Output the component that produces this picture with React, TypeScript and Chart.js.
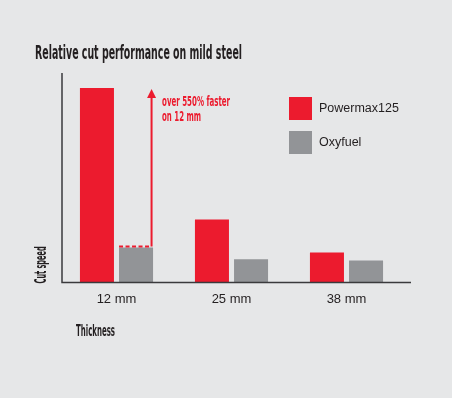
import React, { useEffect, useRef } from "react";
import { Chart, registerables } from "chart.js";

Chart.register(...registerables);

const categories = ["12 mm", "25 mm", "38 mm"];
const seriesNames = ["Powermax125", "Oxyfuel"];
const powermaxValues = [5.57, 1.8, 0.86];
const oxyfuelValues = [1.0, 0.66, 0.63];
const yMax = 6.0;
const chartTitle = "Relative cut performance on mild steel";
const xTitle = "Thickness";
const yTitle = "Cut speed";
const annotationLines = ["over 550% faster", "on 12 mm"];

const RED = "#ec1b2e";
const GRAY = "#929497";
const TEXT = "#231f20";
const BG = "#e6e7e8";
const CONDENSED = '"Liberation Sans Narrow", "DejaVu Sans Condensed", "Liberation Sans", sans-serif';
const SANS = '"Liberation Sans", Arial, sans-serif';

function drawFitted(
  ctx: CanvasRenderingContext2D,
  text: string,
  x: number,
  y: number,
  width: number,
  font: string,
  color: string
) {
  ctx.save();
  ctx.font = font;
  ctx.fillStyle = color;
  ctx.textBaseline = "alphabetic";
  ctx.textAlign = "left";
  const w = ctx.measureText(text).width;
  const s = width / w;
  ctx.translate(x, y);
  ctx.scale(s, 1);
  ctx.fillText(text, 0, 0);
  ctx.restore();
}

const decorPlugin = {
  id: "decor",
  afterDatasetsDraw(chart: any) {
    const ctx: CanvasRenderingContext2D = chart.ctx;
    const area = chart.chartArea;

    // axis lines
    ctx.save();
    ctx.strokeStyle = "#3a3a3c";
    ctx.lineWidth = 1.5;
    ctx.beginPath();
    ctx.moveTo(area.left + 3, area.top);
    ctx.lineTo(area.left + 3, area.bottom);
    ctx.lineTo(area.right + 7, area.bottom);
    ctx.stroke();
    ctx.restore();

    // annotation
    const red = chart.getDatasetMeta(0).data[0];
    const gray = chart.getDatasetMeta(1).data[0];
    if (red && gray) {
      const gw = gray.width;
      const lineX = gray.x + gw / 2 - 1.5;
      const topY = gray.y - 1;
      ctx.save();
      ctx.strokeStyle = RED;
      ctx.lineWidth = 2;
      ctx.setLineDash([4, 2.5]);
      ctx.beginPath();
      ctx.moveTo(gray.x - gw / 2, topY);
      ctx.lineTo(lineX, topY);
      ctx.stroke();
      ctx.setLineDash([]);
      ctx.beginPath();
      ctx.moveTo(lineX, topY);
      ctx.lineTo(lineX, red.y + 8);
      ctx.stroke();
      ctx.fillStyle = RED;
      ctx.beginPath();
      ctx.moveTo(lineX, red.y + 1);
      ctx.lineTo(lineX - 4.5, red.y + 10);
      ctx.lineTo(lineX + 4.5, red.y + 10);
      ctx.closePath();
      ctx.fill();
      ctx.restore();
      drawFitted(ctx, annotationLines[0], lineX + 10.5, red.y + 17.5, 68, "bold 14px " + CONDENSED, RED);
      drawFitted(ctx, annotationLines[1], lineX + 10.5, red.y + 32.5, 39, "bold 14px " + CONDENSED, RED);
    }

    // legend
    const colors = [RED, GRAY];
    ctx.save();
    seriesNames.forEach((name, i) => {
      const y = 97 + i * 34;
      ctx.fillStyle = colors[i];
      ctx.fillRect(289, y, 23, 23);
      ctx.fillStyle = TEXT;
      ctx.font = "12.5px " + SANS;
      ctx.textBaseline = "middle";
      ctx.textAlign = "left";
      ctx.fillText(name, 319, y + 12);
    });
    ctx.restore();

    // titles
    drawFitted(ctx, chartTitle, 35, 59, 207, "bold 20px " + CONDENSED, TEXT);
    drawFitted(ctx, xTitle, 76, 336, 39, "bold 16px " + CONDENSED, TEXT);
    ctx.save();
    ctx.translate(46, area.bottom + 1);
    ctx.rotate(-Math.PI / 2);
    drawFitted(ctx, yTitle, 0, 0, 37, "bold 15px " + CONDENSED, TEXT);
    ctx.restore();
  },
};

export default function App() {
  const ref = useRef<HTMLCanvasElement | null>(null);

  useEffect(() => {
    document.body.style.margin = "0";
    document.body.style.background = BG;
    if (!ref.current) return;
    const chart = new Chart(ref.current, {
      type: "bar",
      data: {
        labels: categories,
        datasets: [
          {
            label: seriesNames[0],
            data: powermaxValues,
            backgroundColor: RED,
            categoryPercentage: 0.68,
            barPercentage: 0.87,
          },
          {
            label: seriesNames[1],
            data: oxyfuelValues,
            backgroundColor: GRAY,
            categoryPercentage: 0.68,
            barPercentage: 0.87,
          },
        ],
      },
      options: {
        responsive: true,
        maintainAspectRatio: false,
        animation: false,
        events: [],
        layout: { padding: { left: 59, right: 48, top: 73, bottom: 82 } },
        plugins: {
          legend: { display: false },
          title: { display: false },
          tooltip: { enabled: false },
        },
        scales: {
          x: {
            grid: { display: false, drawTicks: false },
            border: { display: false },
            ticks: {
              padding: 9,
              color: TEXT,
              font: { family: SANS, size: 13 },
            },
          },
          y: {
            display: false,
            min: 0,
            max: yMax,
          },
        },
      },
      plugins: [decorPlugin],
    });
    return () => chart.destroy();
  }, []);

  return (
    <div style={{ width: 452, height: 398, position: "relative", background: BG }}>
      <canvas ref={ref} />
    </div>
  );
}
